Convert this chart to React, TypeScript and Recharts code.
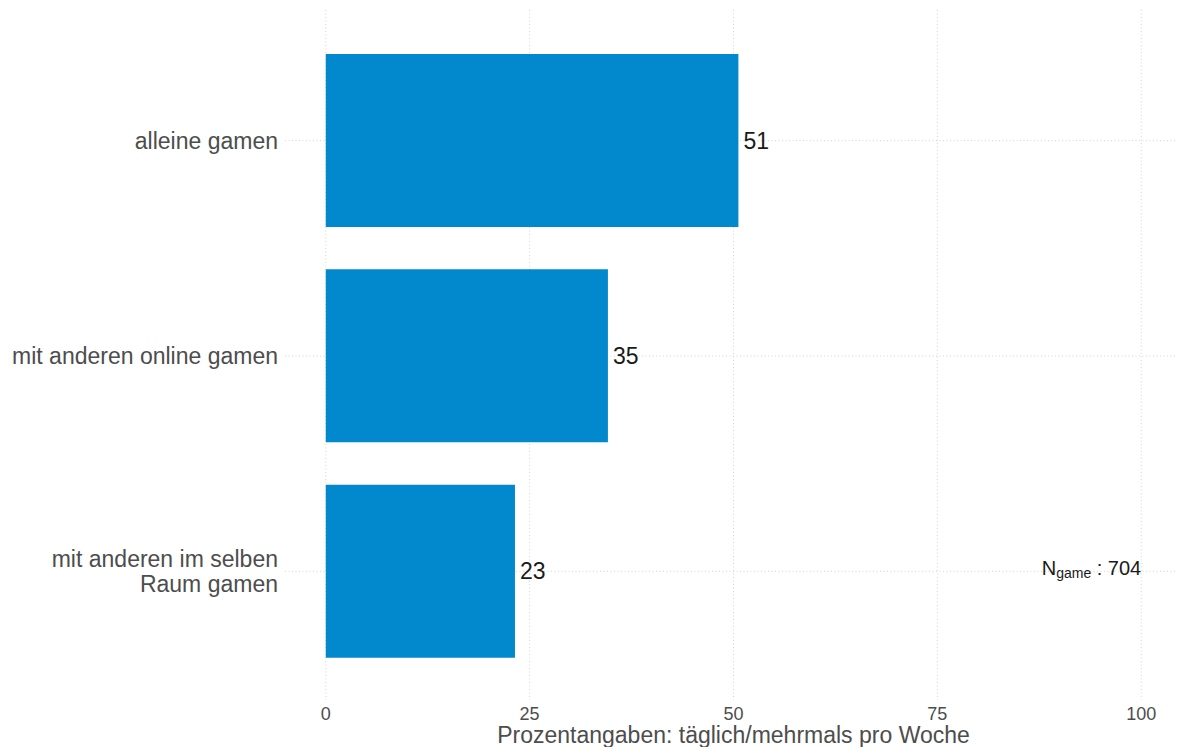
import { BarChart, Bar, XAxis, YAxis, CartesianGrid, LabelList, ReferenceDot } from 'recharts';

const categories = ['alleine gamen', 'mit anderen online gamen', 'mit anderen im selben\nRaum gamen'];
const shares = [50.6, 34.6, 23.2];
const xTicks = [0, 25, 50, 75, 100];
const nGame = 704;

const data = categories.map((name, i) => ({ name, value: shares[i] }));

const FONT = '"Liberation Sans", Arial, Helvetica, sans-serif';
const BAR_COLOR = '#0288cd';
const GRID_COLOR = '#d4d4d4';

const CategoryTick = (props: any) => {
  const { x, y, payload } = props;
  const lines = String(payload.value).split('\n');
  const lineHeight = 25;
  const startDy = -((lines.length - 1) * lineHeight) / 2;
  return (
    <text
      x={x}
      y={y}
      textAnchor="end"
      fontSize={23}
      fill="#4d4d4d"
      fontFamily={FONT}
    >
      {lines.map((line, i) => (
        <tspan key={i} x={x} dy={i === 0 ? startDy + 8 : lineHeight}>
          {line}
        </tspan>
      ))}
    </text>
  );
};

const NLabel = (props: any) => {
  const { cx, cy } = props;
  return (
    <text x={cx} y={cy + 4} textAnchor="end" fill="#1a1a1a" fontFamily={FONT} fontSize={20}>
      <tspan>N</tspan>
      <tspan fontSize={14} dy={3}>game</tspan>
      <tspan dy={-3}>{` : ${nGame}`}</tspan>
    </text>
  );
};

const App = () => {
  return (
    <div style={{ position: 'absolute', left: 0, top: 0, background: '#fff' }}>
      <BarChart
        width={1177}
        height={747}
        data={data}
        layout="vertical"
        margin={{ top: 10, right: -5, left: 0, bottom: 0 }}
      >
        <CartesianGrid stroke={GRID_COLOR} strokeDasharray="1 2.5" syncWithTicks />
        <XAxis
          type="number"
          domain={[-5, 105]}
          ticks={xTicks}
          allowDataOverflow
          axisLine={false}
          tickLine={false}
          tickSize={0}
          tickMargin={7}
          height={47}
          tick={{ fontSize: 18, fill: '#4d4d4d', fontFamily: FONT }}
          label={{
            value: 'Prozentangaben: täglich/mehrmals pro Woche',
            position: 'insideBottom',
            offset: 4,
            fontSize: 23,
            fill: '#4d4d4d',
            fontFamily: FONT,
          }}
        />
        <YAxis
          type="category"
          dataKey="name"
          width={285}
          axisLine={false}
          tickLine={false}
          tickSize={0}
          tickMargin={7}
          padding={{ top: 23, bottom: 21 }}
          tick={<CategoryTick />}
          interval={0}
        />
        <Bar dataKey="value" fill={BAR_COLOR} barSize={173} isAnimationActive={false}>
          <LabelList
            dataKey="value"
            position="right"
            offset={5}
            formatter={(v: number) => `${Math.round(v)}`}
            style={{ fontSize: 23, fill: '#1a1a1a', fontFamily: FONT }}
          />
        </Bar>
        <ReferenceDot x={100} y={categories[2]} r={1} shape={<NLabel />} />
      </BarChart>
    </div>
  );
};

export default App;
